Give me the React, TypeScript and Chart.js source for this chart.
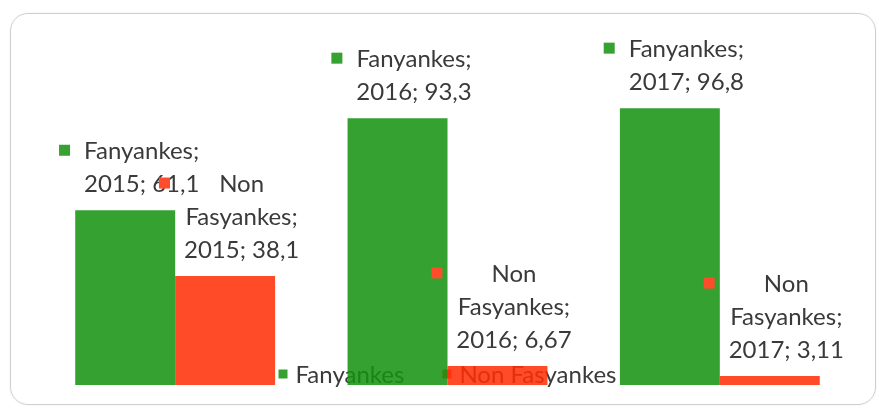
import React, { useEffect, useRef } from "react";
import { Chart, registerables } from "chart.js";

Chart.register(...registerables);

// ---- data ----
const categories = ["2015", "2016", "2017"];
const seriesNames = ["Fanyankes", "Non Fasyankes"];
const fanyankesValues = [61.1, 93.3, 96.8];
const nonFasyankesValues = [38.1, 6.67, 3.11];
const labelNameLines = [["Fanyankes;"], ["Non", "Fasyankes;"]];
const yMin = 0;
const yMax = 100;

// ---- style ----
const FONT = "Lato, 'Open Sans', sans-serif";
const TEXT = "#3a3a3a";
const barColors = ["rgba(20,146,14,0.86)", "rgba(255,45,5,0.86)"];
const keyColors = ["#37a232", "#ff4c2a"];

const fmt = (v: number) => String(v).replace(".", ",");

const labelPlugin = {
  id: "excelLabels",
  afterDatasetsDraw(chart: any) {
    const ctx = chart.ctx;
    ctx.save();
    ctx.font = `24px ${FONT}`;
    ctx.textBaseline = "alphabetic";
    ctx.textAlign = "center";
    chart.data.datasets.forEach((ds: any, di: number) => {
      const meta = chart.getDatasetMeta(di);
      meta.data.forEach((bar: any, i: number) => {
        const lines = [...labelNameLines[di], `${categories[i]}; ${fmt(ds.data[i])}`];
        const tw = Math.max(...lines.map((l) => ctx.measureText(l).width));
        const key = 11;
        const gap = 14;
        const total = key + gap + tw;
        const left = bar.x + 4 - total / 2;
        const textCenter = left + key + gap + tw / 2;
        const lastBaseline = bar.y - 18;
        const lh = 33;
        ctx.fillStyle = TEXT;
        lines.forEach((l, k) => {
          const baseline = lastBaseline - (lines.length - 1 - k) * lh;
          ctx.fillText(l, textCenter, baseline);
        });
        const firstBaseline = lastBaseline - (lines.length - 1) * lh;
        ctx.fillStyle = keyColors[di];
        ctx.fillRect(left, firstBaseline - 9 - key / 2, key, key);
      });
    });
    ctx.restore();
  },
};

const legendPlugin = {
  id: "overlayLegend",
  beforeDatasetsDraw(chart: any) {
    const ctx = chart.ctx;
    ctx.save();
    ctx.font = `24px ${FONT}`;
    const items = chart.data.datasets.map((ds: any, i: number) => ({
      text: ds.label,
      color: keyColors[i],
      w: ctx.measureText(ds.label).width,
    }));
    const box = 9;
    const gapBT = 8;
    const itemGap = 38;
    const total =
      items.reduce((s: number, it: any) => s + box + gapBT + it.w, 0) +
      itemGap * (items.length - 1);
    const ca = chart.chartArea;
    let x = (ca.left + ca.right) / 2 - total / 2;
    const cy = ca.bottom - 11;
    ctx.textBaseline = "middle";
    ctx.textAlign = "left";
    items.forEach((it: any) => {
      ctx.fillStyle = it.color;
      ctx.fillRect(x, cy - box / 2, box, box);
      x += box + gapBT;
      ctx.fillStyle = TEXT;
      ctx.fillText(it.text, x, cy + 1);
      x += it.w + itemGap;
    });
    ctx.restore();
  },
};

export default function App() {
  const ref = useRef<HTMLCanvasElement | null>(null);

  useEffect(() => {
    if (!ref.current) return;
    const chart = new Chart(ref.current, {
      type: "bar",
      data: {
        labels: categories,
        datasets: [
          {
            label: seriesNames[0],
            data: fanyankesValues,
            backgroundColor: barColors[0],
            borderWidth: 0,
          },
          {
            label: seriesNames[1],
            data: nonFasyankesValues,
            backgroundColor: barColors[1],
            borderWidth: 0,
          },
        ],
      },
      options: {
        responsive: false,
        animation: false,
        layout: { padding: { left: 39, right: 23, top: 99, bottom: 25 } },
        datasets: {
          bar: { categoryPercentage: 0.734, barPercentage: 1.0 },
        },
        scales: {
          x: { display: false, grid: { display: false } },
          y: { display: false, min: yMin, max: yMax, grid: { display: false } },
        },
        plugins: {
          legend: { display: false },
          tooltip: { enabled: false },
        },
      },
      plugins: [legendPlugin, labelPlugin],
    });
    return () => chart.destroy();
  }, []);

  return (
    <div
      style={{
        position: "fixed",
        left: 0,
        top: 0,
        width: 879,
        height: 410,
        background: "#ffffff",
        overflow: "hidden",
      }}
    >
      <div
        style={{
          position: "absolute",
          left: 10,
          top: 13,
          width: 864,
          height: 390,
          border: "1.5px solid #cfcfcf",
          borderRadius: 18,
          boxShadow: "0 0 2px rgba(0,0,0,0.08)",
        }}
      />
      <canvas
        ref={ref}
        width={879}
        height={410}
        style={{ position: "absolute", left: 0, top: 0, width: 879, height: 410 }}
      />
    </div>
  );
}
